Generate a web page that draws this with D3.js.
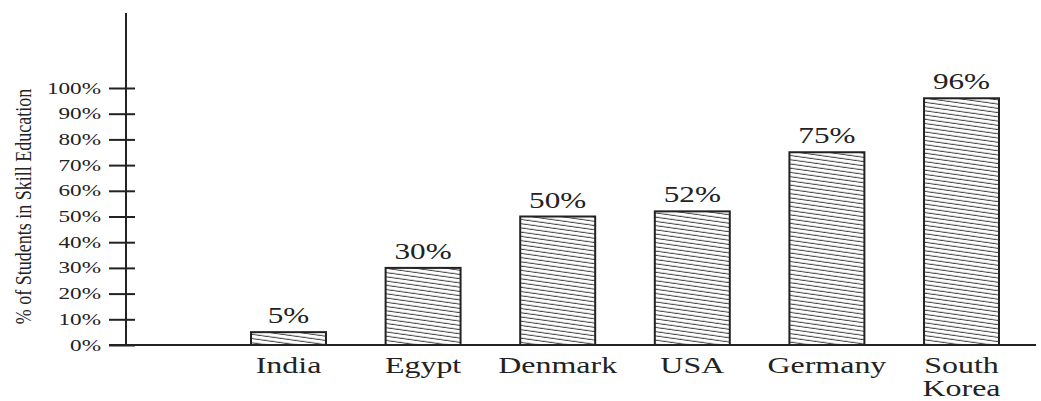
<!DOCTYPE html>
<html>
<head>
<meta charset="utf-8">
<script src="https://cdn.jsdelivr.net/npm/d3@7"></script>
<style>
  body { margin: 0; background: #fff; }
  text { font-family: "Liberation Serif", "DejaVu Serif", serif; fill: #222; }
</style>
</head>
<body>
<div id="chart"></div>
<script>
// data
const countries = ["India", "Egypt", "Denmark", "USA", "Germany", "South Korea"];
const shares = [5, 30, 50, 52, 75, 96];
const tickValues = [0, 10, 20, 30, 40, 50, 60, 70, 80, 90, 100];
const yTitle = "% of Students in Skill Education";

const width = 1041, height = 401;
const ink = "#222";

const svg = d3.select("#chart").append("svg")
  .attr("width", width)
  .attr("height", height);

// hatch pattern, shallow lines falling to the right
const defs = svg.append("defs");
const hatch = defs.append("pattern")
  .attr("id", "hatch")
  .attr("patternUnits", "userSpaceOnUse")
  .attr("width", 40)
  .attr("height", 4.2)
  .attr("patternTransform", "rotate(8)");
hatch.append("rect").attr("width", 40).attr("height", 4.2).attr("fill", "#fff");
hatch.append("line")
  .attr("x1", 0).attr("x2", 40)
  .attr("y1", 2).attr("y2", 2)
  .attr("stroke", "#444").attr("stroke-width", 0.9);

const axisX = 126, baseY = 345;

const y = d3.scaleLinear().domain([0, 100]).range([baseY, 88]);
const x = d3.scaleBand().domain(countries).range([251, 999])
  .paddingInner(0.443).paddingOuter(0);

// y axis
const yAxis = svg.append("g")
  .attr("transform", `translate(${axisX},0)`)
  .call(d3.axisLeft(y).tickValues(tickValues).tickSize(17).tickFormat(""));
yAxis.select(".domain").remove();
yAxis.selectAll(".tick line")
  .attr("x2", -17).attr("x1", 9)
  .attr("stroke", ink).attr("stroke-width", 2);

svg.append("line")
  .attr("x1", axisX).attr("x2", axisX)
  .attr("y1", 13).attr("y2", baseY)
  .attr("stroke", ink).attr("stroke-width", 2);

// baseline
svg.append("line")
  .attr("x1", axisX - 17).attr("x2", 1036)
  .attr("y1", baseY).attr("y2", baseY)
  .attr("stroke", ink).attr("stroke-width", 2);

// tick labels (wide serif look)
svg.append("g").selectAll("text")
  .data(tickValues)
  .join("text")
  .attr("transform", d => `translate(101,${y(d) + 5.5}) scale(1.45,1)`)
  .attr("text-anchor", "end")
  .style("font-size", "16px")
  .text(d => d + "%");

// y title
svg.append("text")
  .attr("transform", `translate(31,${(88 + baseY) / 2 - 10}) rotate(-90) scale(1,1.3)`)
  .attr("text-anchor", "middle")
  .style("font-size", "18px")
  .text(yTitle);

// bars
const data = countries.map((c, i) => ({ country: c, value: shares[i] }));

svg.append("g").selectAll("rect")
  .data(data)
  .join("rect")
  .attr("x", d => x(d.country))
  .attr("y", d => y(d.value))
  .attr("width", x.bandwidth())
  .attr("height", d => baseY - y(d.value))
  .attr("fill", "url(#hatch)")
  .attr("stroke", ink)
  .attr("stroke-width", 2);

// value labels
svg.append("g").selectAll("text")
  .data(data)
  .join("text")
  .attr("transform", d => `translate(${x(d.country) + x.bandwidth() / 2},${y(d.value) - 9}) scale(1.3,1)`)
  .attr("text-anchor", "middle")
  .style("font-size", "24px")
  .text(d => d.value + "%");

// category labels, South Korea wraps onto two lines
svg.append("g").selectAll("g")
  .data(data)
  .join("g")
  .attr("transform", d => `translate(${x(d.country) + x.bandwidth() / 2},373) scale(1.42,1)`)
  .each(function (d) {
    const words = d.country === "South Korea" ? ["South", "Korea"] : [d.country];
    d3.select(this).selectAll("text")
      .data(words)
      .join("text")
      .attr("y", (w, i) => i * 23)
      .attr("text-anchor", "middle")
      .style("font-size", "22.5px")
      .text(w => w);
  });
</script>
</body>
</html>
